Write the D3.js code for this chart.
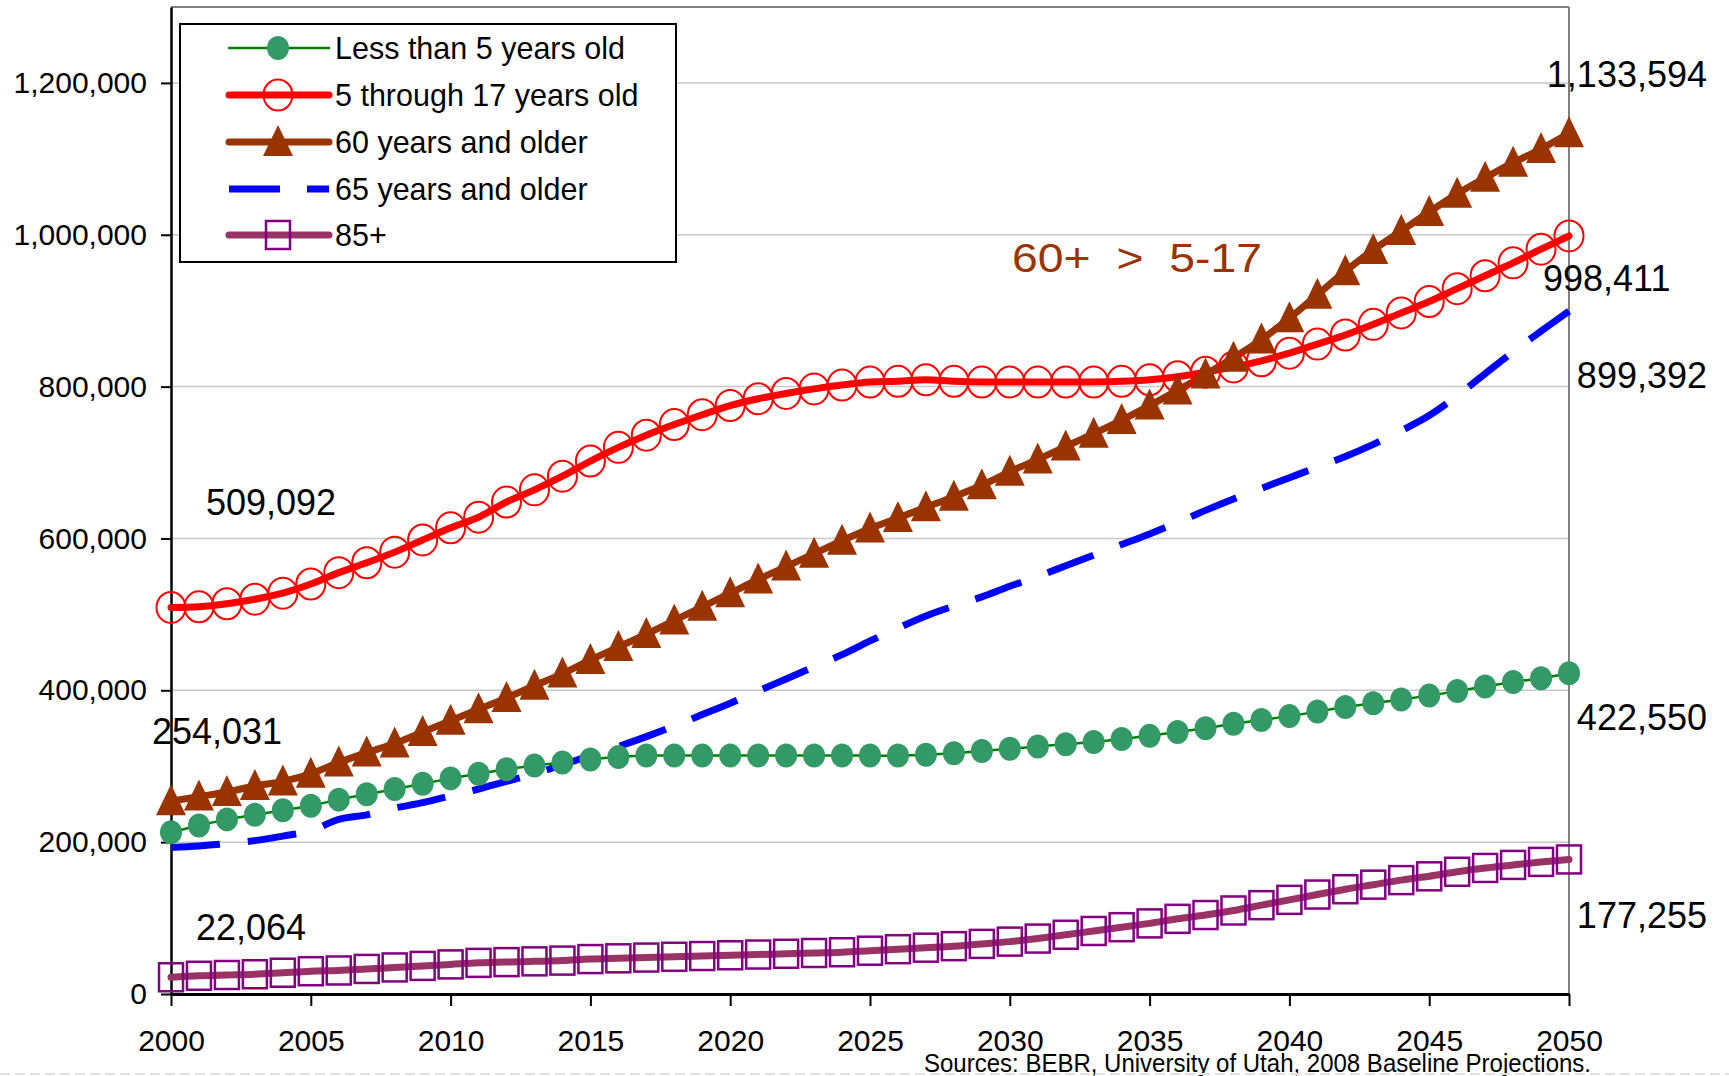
<!DOCTYPE html>
<html>
<head>
<meta charset="utf-8">
<script src="https://cdn.jsdelivr.net/npm/d3@7"></script>
<style>
  html, body { margin: 0; padding: 0; background: #fff; }
  svg { display: block; }
  text { font-family: "Liberation Sans", Arial, sans-serif; }
</style>
</head>
<body>
<svg id="chart" width="1729" height="1076"></svg>
<script>
// ---------- DATA ----------
const years = [2000,2001,2002,2003,2004,2005,2006,2007,2008,2009,
  2010,2011,2012,2013,2014,2015,2016,2017,2018,2019,
  2020,2021,2022,2023,2024,2025,2026,2027,2028,2029,
  2030,2031,2032,2033,2034,2035,2036,2037,2038,2039,
  2040,2041,2042,2043,2044,2045,2046,2047,2048,2049,2050];

const under5 = [213000,222000,230000,236000,242000,248000,256000,263000,270000,277000,
  284000,290000,296000,301000,305000,309000,312000,314000,314000,314000,
  314000,314000,314000,314000,314000,314000,314000,315000,317000,320000,
  323000,326000,329000,332000,336000,340000,345000,350000,356000,361000,
  366000,372000,378000,383000,388000,393000,399000,405000,411000,416000,422550];

const age5to17 = [509092,510000,514000,520000,528000,540000,555000,568000,582000,598000,
  614000,628000,648000,664000,682000,702000,720000,736000,750000,763000,
  775000,784000,791000,797000,802000,806000,807000,809000,807000,806000,
  806000,806000,806000,806000,807000,809000,813000,819000,826000,834000,
  844000,856000,868000,882000,897000,912000,929000,946000,963000,981000,998411];

const age60plus = [254031,260000,266000,274000,280000,290000,305000,318000,330000,345000,
  360000,375000,390000,406000,422000,440000,457000,474000,492000,510000,
  528000,546000,563000,580000,597000,613000,627000,641000,655000,670000,
  688000,704000,721000,738000,756000,775000,795000,816000,838000,862000,
  890000,921000,952000,980000,1005000,1030000,1054000,1075000,1095000,1113000,1133594];

const age65plus = [193000,195000,198000,202000,208000,215000,230000,236000,245000,252000,
  261000,270000,280000,290000,302000,314000,326000,339000,353000,368000,
  383000,399000,415000,431000,447000,465000,482000,498000,511000,523000,
  537000,550000,564000,578000,592000,606000,621000,637000,652000,666000,
  680000,694000,708000,724000,742000,762000,788000,817000,846000,873000,899392];

const age85plus = [22064,24000,25000,26000,28000,30000,31000,33000,35000,37000,
  39000,41000,42000,43000,44000,46000,47000,48000,49000,50000,
  51000,52000,53000,54000,55000,57000,59000,61000,63000,66000,
  69000,73000,78000,83000,88000,93000,99000,104000,110000,117000,
  124000,131000,138000,144000,150000,155000,161000,166000,170000,174000,177255];

const seriesNames = ["Less than 5 years old","5 through 17 years old","60 years and older","65 years and older","85+"];
const yTicks = [0,200000,400000,600000,800000,1000000,1200000];
const xTicks = [2000,2005,2010,2015,2020,2025,2030,2035,2040,2045,2050];
const annotation = "60+  >  5-17";
const sourceText = "Sources: BEBR, University of Utah, 2008 Baseline Projections.";

// ---------- CHART ----------
const svg = d3.select("#chart");
const x = d3.scaleLinear().domain([2000, 2050]).range([171, 1569]);
const y = d3.scaleLinear().domain([0, 1300000]).range([994, 7]);
const fmt = d3.format(",");

// gridlines
svg.append("g").selectAll("line").data(yTicks.filter(d => d > 0)).join("line")
  .attr("x1", x(2000)).attr("x2", x(2050))
  .attr("y1", d => y(d)).attr("y2", d => y(d))
  .attr("stroke", "#c8c8c8").attr("stroke-width", 1.5);

// top & right border
svg.append("line").attr("x1", x(2000)).attr("x2", x(2050)).attr("y1", y(1300000)).attr("y2", y(1300000))
  .attr("stroke", "#808080").attr("stroke-width", 2);
svg.append("line").attr("x1", x(2050)).attr("x2", x(2050)).attr("y1", y(1300000)).attr("y2", y(0))
  .attr("stroke", "#808080").attr("stroke-width", 2);

// y axis
const yAxis = svg.append("g").attr("transform", `translate(${x(2000)},0)`)
  .call(d3.axisLeft(y).tickValues(yTicks).tickSize(10).tickSizeOuter(0).tickPadding(14).tickFormat(fmt));
yAxis.select(".domain").attr("stroke", "#000").attr("stroke-width", 2.5);
yAxis.selectAll(".tick line").attr("stroke", "#000").attr("stroke-width", 2);
yAxis.selectAll(".tick text").attr("font-size", 30).attr("fill", "#000")
  .attr("font-family", "Liberation Sans, Arial, sans-serif");

// x axis
const xAxis = svg.append("g").attr("transform", `translate(0,${y(0)})`)
  .call(d3.axisBottom(x).tickValues(xTicks).tickSize(12).tickSizeOuter(0).tickPadding(24).tickFormat(d3.format("d")));
xAxis.select(".domain").attr("stroke", "#000").attr("stroke-width", 3);
xAxis.selectAll(".tick line").attr("stroke", "#000").attr("stroke-width", 2);
xAxis.selectAll(".tick text").attr("font-size", 30).attr("fill", "#000")
  .attr("font-family", "Liberation Sans, Arial, sans-serif");

// ---------- series ----------
const mk = arr => arr.map((v, i) => ({ year: years[i], value: v }));
const smooth = d3.line().x(d => x(d.year)).y(d => y(d.value)).curve(d3.curveCatmullRom.alpha(0.5));

const series = [
  { key: "u5", data: mk(under5), stroke: "#008000", width: 2.5, dash: null, marker: "circleFilled" },
  { key: "a517", data: mk(age5to17), stroke: "#FF0000", width: 7, dash: null, marker: "circleHollow" },
  { key: "a60", data: mk(age60plus), stroke: "#993300", width: 7, dash: null, marker: "triangle" },
  { key: "a65", data: mk(age65plus), stroke: "#0000FF", width: 7, dash: "49,28", marker: null },
  { key: "a85", data: mk(age85plus), stroke: "#993366", width: 7, dash: null, marker: "square" }
];

const lines = svg.append("g");
series.forEach(s => {
  lines.append("path").datum(s.data)
    .attr("d", smooth).attr("fill", "none")
    .attr("stroke", s.stroke).attr("stroke-width", s.width)
    .attr("stroke-linecap", s.dash ? "butt" : "round")
    .attr("stroke-linejoin", "round")
    .attr("stroke-dasharray", s.dash);
});

function drawMarker(g, type, cx, cy) {
  if (type === "circleFilled") {
    g.append("ellipse").attr("cx", cx).attr("cy", cy).attr("rx", 11).attr("ry", 12)
      .attr("fill", "#339966");
  } else if (type === "circleHollow") {
    g.append("ellipse").attr("cx", cx).attr("cy", cy).attr("rx", 14.5).attr("ry", 15.5)
      .attr("fill", "none").attr("stroke", "#FF0000").attr("stroke-width", 2);
  } else if (type === "triangle") {
    g.append("path").attr("d", `M${cx},${cy - 17} L${cx + 15},${cy + 14} L${cx - 15},${cy + 14} Z`)
      .attr("fill", "#993300");
  } else if (type === "square") {
    g.append("rect").attr("x", cx - 12).attr("y", cy - 14).attr("width", 24).attr("height", 28)
      .attr("fill", "none").attr("stroke", "#800080").attr("stroke-width", 2.5);
  }
}

const markers = svg.append("g");
series.forEach(s => {
  if (!s.marker) return;
  const g = markers.append("g");
  s.data.forEach(d => drawMarker(g, s.marker, x(d.year), y(d.value)));
});

// ---------- value labels ----------
const labels = [
  { text: fmt(age5to17[0]), x: 206, y: 515, anchor: "start" },
  { text: fmt(age60plus[0]), x: 152, y: 744, anchor: "start" },
  { text: fmt(age85plus[0]), x: 196, y: 940, anchor: "start" },
  { text: fmt(age60plus[50]), x: 1707, y: 87, anchor: "end" },
  { text: fmt(age5to17[50]), x: 1543, y: 291, anchor: "start" },
  { text: fmt(age65plus[50]), x: 1707, y: 388, anchor: "end" },
  { text: fmt(under5[50]), x: 1707, y: 730, anchor: "end" },
  { text: fmt(age85plus[50]), x: 1707, y: 928, anchor: "end" }
];
svg.append("g").selectAll("text").data(labels).join("text")
  .attr("x", d => d.x).attr("y", d => d.y).attr("text-anchor", d => d.anchor)
  .attr("font-size", 36).attr("fill", "#000").text(d => d.text);

// annotation
svg.append("text").attr("x", 1012).attr("y", 272).attr("font-size", 40)
  .attr("font-family", "DejaVu Sans, Verdana, sans-serif")
  .attr("fill", "#993300").attr("textLength", 250).attr("lengthAdjust", "spacingAndGlyphs")
  .style("white-space", "pre").attr("xml:space", "preserve").text(annotation);

// source
svg.append("text").attr("x", 924).attr("y", 1072).attr("font-size", 25)
  .attr("fill", "#000").attr("textLength", 667).attr("lengthAdjust", "spacingAndGlyphs")
  .text(sourceText);

// bottom dashed rule
svg.append("line").attr("x1", 0).attr("x2", 1729).attr("y1", 1074).attr("y2", 1074)
  .attr("stroke", "#e0e0e0").attr("stroke-width", 2).attr("stroke-dasharray", "10,5");

// ---------- legend ----------
const leg = svg.append("g");
leg.append("rect").attr("x", 180).attr("y", 24).attr("width", 496).attr("height", 238)
  .attr("fill", "#fff").attr("stroke", "#000").attr("stroke-width", 2);
const legY = [48, 95, 142, 189, 235];
series.forEach((s, i) => {
  const ly = legY[i];
  leg.append("line").attr("x1", 229).attr("x2", 329).attr("y1", ly).attr("y2", ly)
    .attr("stroke", s.stroke).attr("stroke-width", s.width)
    .attr("stroke-linecap", s.dash ? "butt" : "round")
    .attr("stroke-dasharray", s.dash ? "51,27" : null);
  if (s.marker) drawMarker(leg, s.marker, 278, ly);
  leg.append("text").attr("x", 335).attr("y", ly + 11).attr("font-size", 30.5)
    .attr("fill", "#000").text(seriesNames[i]);
});
</script>
</body>
</html>
